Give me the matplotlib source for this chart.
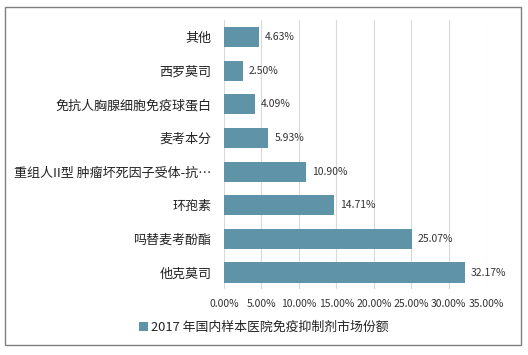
import matplotlib.pyplot as plt
from matplotlib.patches import Rectangle

plt.rcParams['font.family'] = ['Noto Sans CJK SC', 'DejaVu Sans']

categories = ['他克莫司', '吗替麦考酚酯', '环孢素', '重组人II型 肿瘤坏死因子受体-抗…',
              '麦考本分', '免抗人胸腺细胞免疫球蛋白', '西罗莫司', '其他']
shares = [32.17, 25.07, 14.71, 10.90, 5.93, 4.09, 2.50, 4.63]
ticks = [0, 5, 10, 15, 20, 25, 30, 35]
legend_label = '2017 年国内样本医院免疫抑制剂市场份额'
color = '#5f93a8'

fig = plt.figure(figsize=(5.28, 3.55), dpi=100)
ax = fig.add_axes([0.424, 0.185, 0.497, 0.758])

ypos = range(len(categories))
ax.barh(ypos, shares, height=0.6, color=color, zorder=3, label=legend_label)
for y, v in zip(ypos, shares):
    ax.text(v + 0.8, y, f'{v:.2f}%', va='center', ha='left', fontsize=7.5, color='#333333')

ax.set_xlim(0, 35)
ax.set_ylim(-0.5, len(categories) - 0.5)
ax.set_xticks(ticks)
ax.set_xticklabels([f'{t:.2f}%' for t in ticks], fontsize=7.5, color='#333333')
ax.tick_params(axis='x', length=0, pad=7)
ax.set_yticks(list(ypos))
ax.set_yticklabels(categories, fontsize=9.4, color='#222222')
ax.tick_params(axis='y', length=0, pad=9)
ax.grid(axis='x', color='#d9d9d9', linewidth=0.8, zorder=0)
for s in ax.spines.values():
    s.set_visible(False)

fig.legend(loc='center', bbox_to_anchor=(0.5, 0.077), frameon=False, fontsize=9.3,
           handlelength=0.7, handleheight=0.7, handletextpad=0.2, labelcolor='#222222')

fig.patches.append(Rectangle((0.009, 0.028), 0.977, 0.952, transform=fig.transFigure,
                             fill=False, edgecolor='#7f7f7f', linewidth=1))

fig.savefig('out.png', dpi=100)
